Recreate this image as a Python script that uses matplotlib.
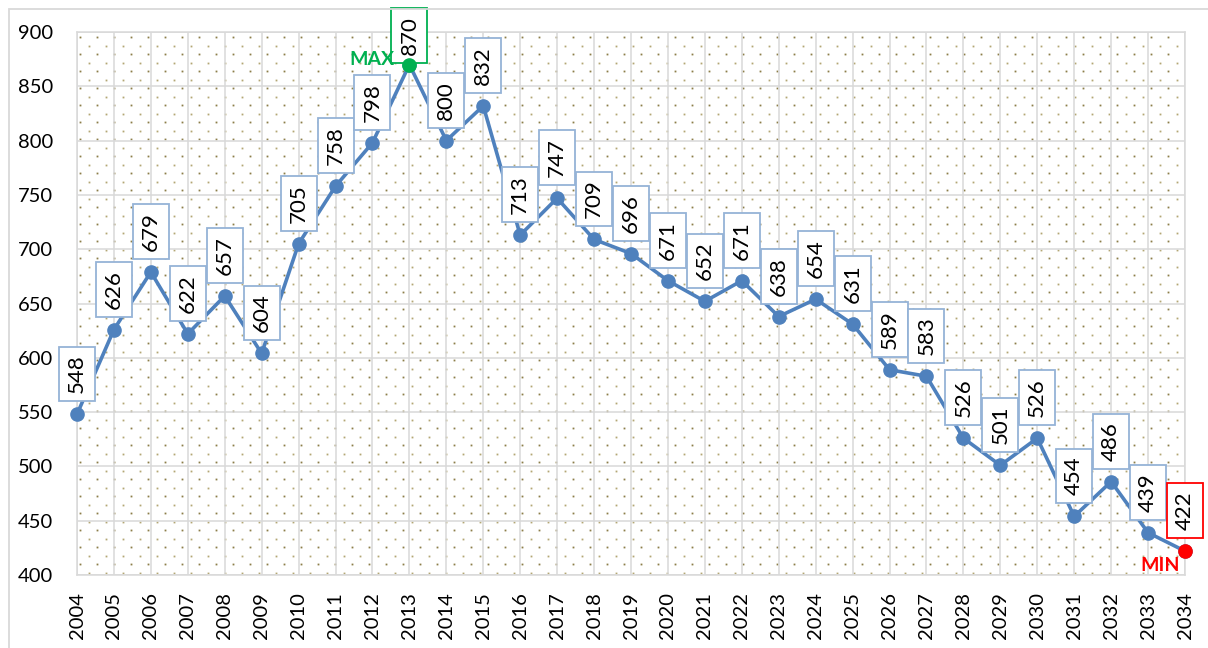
import matplotlib.pyplot as plt
from matplotlib.patches import Rectangle
import numpy as np

years = list(range(2004, 2035))
values = [548, 626, 679, 622, 657, 604, 705, 758, 798, 870, 800, 832, 713, 747,
          709, 696, 671, 652, 671, 638, 654, 631, 589, 583, 526, 501, 526, 454,
          486, 439, 422]
y_ticks = list(range(400, 901, 50))

line_color = "#4F81BD"
box_color = "#95B3D7"
grid_color = "#D9D9D9"
max_color = "#00B050"
min_color = "#FF0000"

plt.rcParams["font.family"] = ["Lato", "DejaVu Sans"]

W, H = 1208, 648
fig = plt.figure(figsize=(W / 100, H / 100), dpi=100)
# plot area in pixels: x 77..1185, y 32..575
px0, px1, py0, py1 = 77, 1185, 32, 575
ax = fig.add_axes([px0 / W, 1 - py1 / H, (px1 - px0) / W, (py1 - py0) / H])

# outer chart border
fig.add_artist(Rectangle((9 / W, -0.1), 1.2, 1.1 - 9 / H, transform=fig.transFigure,
                         fill=False, edgecolor=grid_color, linewidth=1.3))

# dotted plot-area fill pattern
aw, ah = px1 - px0, py1 - py0
rows = np.arange(5, ah, 8.5)
for i, ry in enumerate(rows):
    start = 3 if i % 2 == 0 else 11.5
    xs = np.arange(start, aw, 17) / aw
    ys = np.full_like(xs, 1 - ry / ah)
    col = "#8C7E48" if i % 2 == 0 else "#B3A674"
    ax.plot(xs, ys, "s", ms=1.3, mew=0, color=col, transform=ax.transAxes, zorder=0.2)

ax.plot(years, values, color=line_color, linewidth=2.6, marker="o",
        markersize=9.5, zorder=3, clip_on=False)

imax = int(np.argmax(values))
imin = int(np.argmin(values))
ax.plot(years[imax], values[imax], "o", color=max_color, markersize=9.5,
        zorder=5, clip_on=False)
ax.plot(years[imin], values[imin], "o", color=min_color, markersize=9.5,
        zorder=5, clip_on=False)

# label boxes sit ~13 px above the point, but stay inside the chart border
px_per_unit = ah / 500.0
box_h = 53
pad_px = 8
for i, (yr, v) in enumerate(zip(years, values)):
    ec = box_color
    if i == imax:
        ec = max_color
    elif i == imin:
        ec = min_color
    point_y = py1 - (v - 400) * px_per_unit
    gap = 13
    if point_y - gap - box_h < 10:
        gap = point_y - box_h - 10
    off_pt = (gap + pad_px) * 0.72
    ax.annotate(str(v), (yr, v), xytext=(0, off_pt), textcoords="offset points",
                ha="center", va="bottom", rotation=90, fontsize=16,
                bbox=dict(boxstyle="square,pad=0.36", facecolor="white",
                          edgecolor=ec, linewidth=1.3),
                zorder=4, annotation_clip=False)

ax.annotate("MAX", (years[imax], values[imax]), xytext=(-11, 4),
            textcoords="offset points", ha="right", va="center",
            color=max_color, fontsize=14, fontweight="bold", zorder=4)
ax.annotate("MIN", (years[imin], values[imin]), xytext=(-4, -4),
            textcoords="offset points", ha="right", va="top",
            color=min_color, fontsize=14, fontweight="bold", zorder=4)

ax.set_xlim(years[0], years[-1])
ax.set_ylim(400, 900)
ax.set_xticks(years)
ax.set_xticklabels([str(y) for y in years], rotation=90)
ax.set_yticks(y_ticks)
ax.tick_params(axis="both", length=0, labelsize=14.5)
ax.tick_params(axis="y", pad=17)
ax.tick_params(axis="x", pad=12.5)
ax.grid(True, color=grid_color, linewidth=1.1)
ax.set_axisbelow(True)
for s in ax.spines.values():
    s.set_color(grid_color)
    s.set_linewidth(1.1)

fig.savefig("out.png", dpi=100)
